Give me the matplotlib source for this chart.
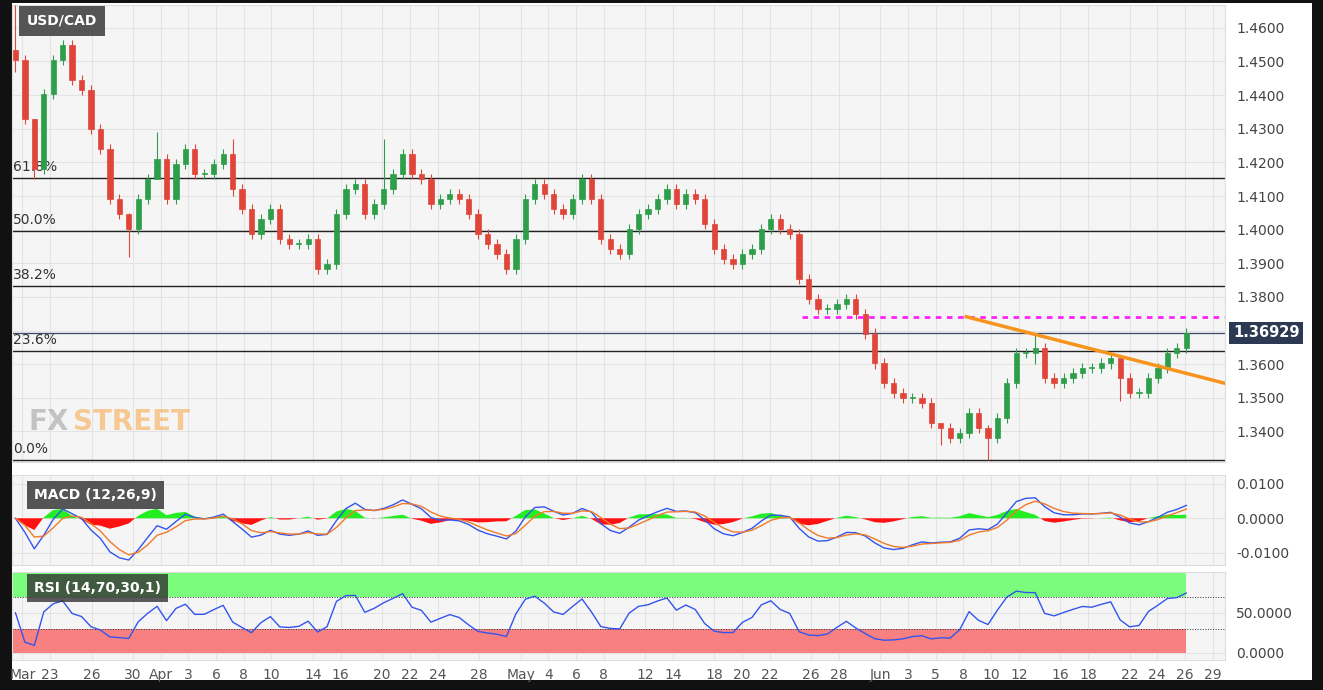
import numpy as np
import matplotlib
matplotlib.use('Agg')
import matplotlib.pyplot as plt
from matplotlib.patches import Rectangle
import datetime as dt

# closes, evenly spaced from Mar 20 to Jun 26 2020
closes = [1.4505, 1.4328, 1.4180, 1.4402, 1.4505, 1.4550, 1.4446, 1.4416, 1.4298, 1.4239,
          1.4091, 1.4047, 1.4002, 1.4091, 1.4150, 1.4209, 1.4091, 1.4194, 1.4239, 1.4165,
          1.4165, 1.4194, 1.4224, 1.4120, 1.4061, 1.3987, 1.4032, 1.4061, 1.3972, 1.3958,
          1.3958, 1.3972, 1.3884, 1.3898, 1.4047, 1.4120, 1.4135, 1.4047, 1.4076, 1.4120,
          1.4165, 1.4224, 1.4165, 1.4150, 1.4076, 1.4091, 1.4106, 1.4091, 1.4047, 1.3987,
          1.3958, 1.3928, 1.3884, 1.3972, 1.4091, 1.4135, 1.4106, 1.4061, 1.4047, 1.4091,
          1.4150, 1.4091, 1.3972, 1.3943, 1.3928, 1.4002, 1.4047, 1.4061, 1.4091, 1.4120,
          1.4076, 1.4106, 1.4091, 1.4017, 1.3943, 1.3913, 1.3898, 1.3928, 1.3943, 1.4002,
          1.4032, 1.4002, 1.3987, 1.3854, 1.3795, 1.3765, 1.3765, 1.3780, 1.3795, 1.3750,
          1.3691, 1.3602, 1.3543, 1.3514, 1.3499, 1.3499, 1.3484, 1.3425, 1.3410, 1.3380,
          1.3395, 1.3454, 1.3410, 1.3380, 1.3440, 1.3543, 1.3632, 1.3632, 1.3647, 1.3558,
          1.3543, 1.3558, 1.3573, 1.3588, 1.3588, 1.3602, 1.3617, 1.3558, 1.3514, 1.3514,
          1.3558, 1.3588, 1.3632, 1.3647, 1.3693]
# a few wick extremes: (bar index, high, low)
extremes = [(0, 1.4668, 1.4470), (2, 1.4330, 1.4150), (12, 1.4050, 1.3920), (15, 1.4290, 1.4190),
            (23, 1.4270, 1.4100), (39, 1.4270, 1.4060), (98, 1.3420, 1.3360), (103, 1.3420, 1.3314),
            (108, 1.3690, 1.3600), (117, 1.3600, 1.3490)]
fib_levels = [1.4153, 1.3997, 1.3832, 1.3638, 1.3314]
fib_labels = ['61.8%', '50.0%', '38.2%', '23.6%', '0.0%']
resistance = 1.3741
trend_start, trend_end = (1.3741, 1.3543)
last_price = 1.36929
tick_dates = ['2020-03-20', '2020-03-23', '2020-03-26', '2020-03-30', '2020-04-01', '2020-04-03',
              '2020-04-06', '2020-04-08', '2020-04-10', '2020-04-14', '2020-04-16', '2020-04-20',
              '2020-04-22', '2020-04-24', '2020-04-28', '2020-05-01', '2020-05-04', '2020-05-06',
              '2020-05-08', '2020-05-12', '2020-05-14', '2020-05-18', '2020-05-20', '2020-05-22',
              '2020-05-26', '2020-05-28', '2020-06-01', '2020-06-03', '2020-06-05', '2020-06-08',
              '2020-06-10', '2020-06-12', '2020-06-16', '2020-06-18', '2020-06-22', '2020-06-24',
              '2020-06-26', '2020-06-29']

# time axis: each week counts 6 units (5 trading days + a compressed weekend), Mar 23 = 0
base = dt.date(2020, 3, 23)
def unit(s):
    d = dt.date.fromisoformat(s)
    delta = (d - base).days
    return (delta // 7) * 6 + min(d.weekday(), 5)

n = len(closes)
xs = np.linspace(-2.5, unit('2020-06-26') + 0.1, n)
step = xs[1] - xs[0]
c = np.array(closes)
o = np.r_[c[0] + 0.003, c[:-1]]
hi = np.maximum(o, c) + 0.0015
lo = np.minimum(o, c) - 0.0015
for i, h, l in extremes:
    hi[i], lo[i] = h, l

def ema(v, alpha):
    out = np.empty_like(v)
    out[0] = v[0]
    for k in range(1, len(v)):
        out[k] = alpha * v[k] + (1 - alpha) * out[k - 1]
    return out

# indicator periods rescaled to these coarser bars
macd = ema(c, 0.45) - ema(c, 0.22)
sig = ema(macd, 0.5)
hist = macd - sig
diff = np.diff(c, prepend=c[0])
up = ema(np.clip(diff, 0, None), 0.25) + 0.0008
dn = ema(np.clip(-diff, 0, None), 0.25) + 0.0008
rsi = 100 - 100 / (1 + up / dn)

W, H = 1323, 690
fig = plt.figure(figsize=(W / 100, H / 100), dpi=100, facecolor='#111111')
bg = fig.add_axes([12 / W, 10 / H, 1300 / W, 677 / H], zorder=-5)
bg.set_axis_off()
bg.add_patch(Rectangle((0, 0), 1, 1, transform=bg.transAxes, fc='white', ec='none'))

def mk(top, bot):
    return fig.add_axes([12 / W, 1 - bot / H, 1213 / W, (bot - top) / H])

ax = mk(5, 462)
am = mk(475, 565)
ar = mk(572, 660)
xl = (-2.75, 84.9)
tx = [unit(t) for t in tick_dates]
for a in (ax, am, ar):
    a.set_facecolor('#f5f5f5')
    a.set_xlim(*xl)
    a.yaxis.tick_right()
    a.tick_params(axis='y', length=0, labelsize=10, colors='#444444', pad=8)
    a.tick_params(axis='x', length=0)
    for s in a.spines.values():
        s.set_color('#dddddd')
    a.set_xticks(tx)
    a.grid(True, color='#e3e3e3', lw=0.8)
    a.set_axisbelow(True)
    a.set_xticklabels([])

# main price chart
ax.set_ylim(1.3314 - 0.0005, 1.4668)
yt = np.arange(1.34, 1.4601, 0.01)
ax.set_yticks(yt)
ax.set_yticklabels(['' if abs(v - 1.37) < 1e-6 else '%.4f' % v for v in yt])
for xi, oo, cc, hh, ll in zip(xs, o, c, hi, lo):
    col = '#2e9e4a' if cc >= oo else '#e0453a'
    ax.vlines(xi, ll, hh, color=col, lw=0.8, zorder=3)
    ax.add_patch(Rectangle((xi - step * 0.28, min(oo, cc)), step * 0.56, max(abs(cc - oo), 0.0003),
                           facecolor=col, edgecolor=col, lw=0.5, zorder=4))
for lv, lb in zip(fib_levels, fib_labels):
    ax.axhline(lv, color='#222222', lw=1, zorder=2)
    ax.text(xl[0] + 0.05, lv + 0.0012, lb, fontsize=10, color='#333333', va='bottom')
ax.axhline(last_price, color='#3a4a66', lw=0.9, zorder=2)
ax.text(1.0065, last_price, '%.5f' % last_price, transform=ax.get_yaxis_transform(), fontsize=10.5,
        color='white', weight='bold', va='center', ha='left', clip_on=False,
        bbox=dict(boxstyle='square,pad=0.25', fc='#2b3a52', ec='none'))
res_start = unit('2020-05-25') + 0.3
trend_x0 = unit('2020-06-08') + 0.2
ax.hlines(resistance, res_start, xl[1], colors='#ff22ff', linestyles=(0, (2, 2)), lw=2, zorder=5)
ax.plot([trend_x0, xl[1]], [trend_start, trend_end], color='#f7941d', lw=2.5, zorder=6)
ax.text(0.012, 0.965, 'USD/CAD', transform=ax.transAxes, color='white', fontsize=10, weight='bold',
        va='center', bbox=dict(boxstyle='square,pad=0.55', fc='#555555', ec='none'))
ax.text(0.014, 0.07, 'FX', transform=ax.transAxes, color='#9a9a9a', fontsize=20, weight='bold',
        alpha=0.55)
ax.text(0.05, 0.07, 'STREET', transform=ax.transAxes, color='#f7a541', fontsize=20, weight='bold',
        alpha=0.55)

# MACD
am.set_ylim(-0.0135, 0.0125)
am.set_yticks([0.01, 0.0, -0.01])
am.set_yticklabels(['0.0100', '0.0000', '-0.0100'])
am.fill_between(xs, 0, hist, where=hist >= 0, color='#22ee22', interpolate=True, lw=0)
am.fill_between(xs, 0, hist, where=hist < 0, color='#ff1111', interpolate=True, lw=0)
am.plot(xs, macd, color='#3355ee', lw=1)
am.plot(xs, sig, color='#f07a2a', lw=1)
am.text(0.018, 0.78, 'MACD (12,26,9)', transform=am.transAxes, color='white', fontsize=10,
        weight='bold', va='center', bbox=dict(boxstyle='square,pad=0.5', fc='#555555', ec='none'))

# RSI
ar.set_ylim(-9, 101)
ar.set_yticks([50, 0])
ar.set_yticklabels(['50.0000', '0.0000'])
band_end = xs[-1]
ar.add_patch(Rectangle((xl[0], 70), band_end - xl[0], 30, fc='#7cfc7c', ec='none', zorder=1))
ar.add_patch(Rectangle((xl[0], 0), band_end - xl[0], 30, fc='#f88080', ec='none', zorder=1))
ar.axhline(70, color='#333333', lw=0.7, ls=':', zorder=2)
ar.axhline(30, color='#333333', lw=0.7, ls=':', zorder=2)
ar.plot(xs, rsi, color='#3355ee', lw=1, zorder=3)
ar.text(0.018, 0.82, 'RSI (14,70,30,1)', transform=ar.transAxes, color='white', fontsize=10,
        weight='bold', va='center', bbox=dict(boxstyle='square,pad=0.5', fc='#333333', ec='none',
                                               alpha=0.8))

# bottom date labels
labs = []
for t in tick_dates:
    d = dt.date.fromisoformat(t)
    labs.append(d.strftime('%b') if d.day == 1 or t == tick_dates[0] else str(d.day))
ar.set_xticks(tx)
ar.set_xticklabels(labs, fontsize=10, color='#555555')
ar.tick_params(axis='x', pad=6)

fig.savefig('out.png', dpi=100, facecolor=fig.get_facecolor())
